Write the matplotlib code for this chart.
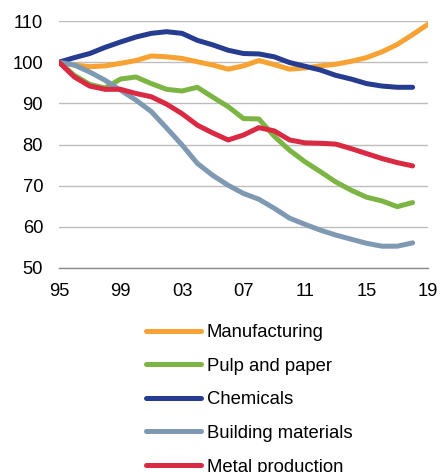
import matplotlib.pyplot as plt
import numpy as np

plt.rcParams['font.family'] = ['Liberation Sans', 'DejaVu Sans']

years = list(range(1995, 2019))
years_mfg = list(range(1995, 2020))

manufacturing = [100, 99.3, 98.9, 99.1, 99.7, 100.4, 101.5, 101.3, 100.9, 100.1,
                 99.3, 98.3, 99.1, 100.4, 99.4, 98.3, 98.6, 99.1, 99.5, 100.2,
                 101.1, 102.5, 104.3, 106.7, 109.2]
pulp_paper = [100, 96.8, 94.6, 93.7, 95.9, 96.4, 94.8, 93.4, 93.0, 93.9,
              91.5, 89.2, 86.3, 86.2, 82.0, 78.6, 75.8, 73.4, 70.9, 68.9,
              67.2, 66.3, 64.9, 65.9]
chemicals = [100, 101.1, 102.1, 103.6, 104.9, 106.1, 107.0, 107.4, 107.0, 105.3,
             104.2, 102.9, 102.1, 102.0, 101.3, 99.9, 99.0, 98.1, 96.8, 95.9,
             94.8, 94.2, 93.9, 93.9]
building = [100, 99.3, 97.6, 95.6, 93.2, 90.8, 88.0, 84.0, 79.9, 75.4,
            72.5, 70.1, 68.1, 66.7, 64.5, 62.1, 60.6, 59.2, 58.0, 57.0,
            56.0, 55.3, 55.3, 56.1]
metal = [100, 96.4, 94.2, 93.4, 93.4, 92.4, 91.6, 89.8, 87.5, 84.7,
         82.8, 81.1, 82.3, 84.1, 83.3, 81.1, 80.4, 80.3, 80.1, 79.0,
         77.8, 76.6, 75.6, 74.8]

tick_years = [1995, 1999, 2003, 2007, 2011, 2015, 2019]
tick_labels = ['95', '99', '03', '07', '11', '15', '19']

fig = plt.figure(figsize=(4.4, 4.72), dpi=100)
W, H = 440, 472
ax = fig.add_axes([59 / W, 1 - 268 / H, (428 - 59) / W, (268 - 21) / H])

lw = 3.4
ax.plot(years_mfg, manufacturing, color='#F7A232', lw=lw, label='Manufacturing', solid_capstyle='round')
ax.plot(years, pulp_paper, color='#7CB543', lw=lw, label='Pulp and paper', solid_capstyle='round')
ax.plot(years, chemicals, color='#253C90', lw=lw, label='Chemicals', solid_capstyle='round')
ax.plot(years, building, color='#7F99B3', lw=lw, label='Building materials', solid_capstyle='round')
ax.plot(years, metal, color='#DA2942', lw=lw, label='Metal production', solid_capstyle='round')

ax.set_xlim(1995, 2019)
ax.set_ylim(50, 110)
ax.set_yticks(np.arange(50, 111, 10))
ax.set_xticks(tick_years)
ax.set_xticklabels(tick_labels)
ax.tick_params(length=0, labelsize=13.2, pad=11)
ax.tick_params(axis='y', pad=11.5)
ax.grid(axis='y', color='#BDBDBD', lw=1)
ax.set_axisbelow(True)
for s in ['top', 'right', 'left']:
    ax.spines[s].set_visible(False)
ax.spines['bottom'].set_color('#8C8C8C')
ax.spines['bottom'].set_linewidth(1)
ax.spines['bottom'].set_zorder(0.5)

# legend stacked under the axes, last row runs off the bottom edge
handles, labels = ax.get_legend_handles_labels()
for h in handles:
    h.set_linewidth(3.6)
fig.legend(handles, labels, loc='upper left', bbox_to_anchor=(146 / W, 1 - 324 / H),
           frameon=False, fontsize=13.3, handlelength=3.0, handletextpad=0.28,
           labelspacing=0.90, borderaxespad=0, borderpad=0)

fig.savefig('out.png', dpi=100)
